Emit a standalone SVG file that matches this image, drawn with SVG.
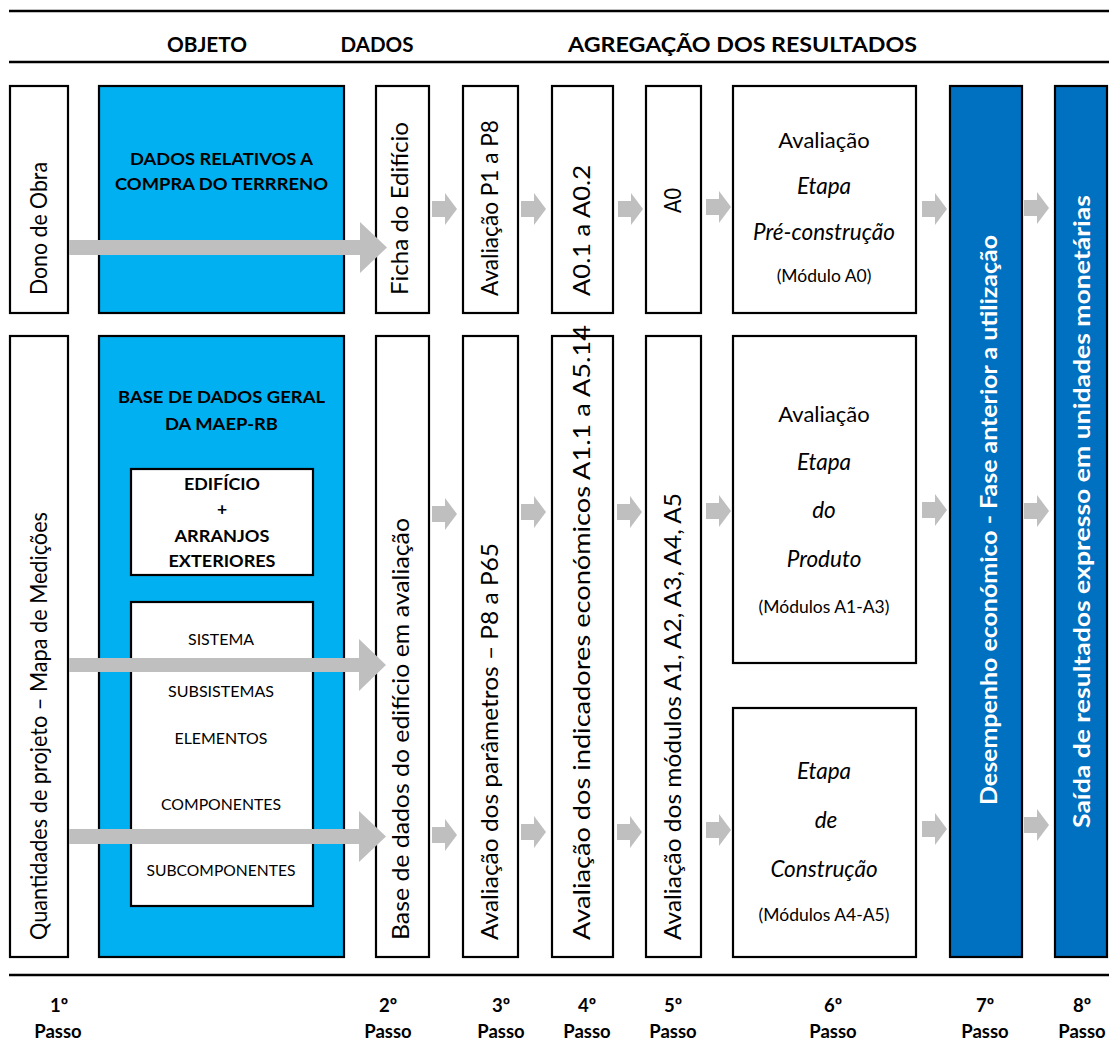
<svg xmlns="http://www.w3.org/2000/svg" width="1109" height="1043" viewBox="0 0 1109 1043">
  <style>
    .box { fill: #ffffff; stroke: #000000; stroke-width: 2.2; }
    .cyan { fill: #00B0F0; stroke: #000000; stroke-width: 2.2; }
    .navy { fill: #0070C0; stroke: #000000; stroke-width: 2.2; }
    .rule { stroke: #000000; stroke-width: 2.5; }
    .arrow { fill: #BFBFBF; }
    text { font-family: Lato, "Liberation Sans", sans-serif; fill: #000000; }
    .hdr { font-size: 20.5px; font-weight: bold; text-anchor: middle; }
    .vt { font-size: 23px; }
    .vtw { font-size: 22px; font-weight: bold; fill: #ffffff; }
    .bh { font-size: 17.5px; font-weight: bold; text-anchor: middle; }
    .li { font-size: 16px; text-anchor: middle; }
    .st { font-size: 22px; text-anchor: middle; }
    .sti { font-size: 22.5px; font-style: italic; text-anchor: middle; }
    .mod { font-size: 17.5px; text-anchor: middle; }
    .step { font-size: 18.5px; font-weight: bold; text-anchor: middle; }
  </style>
  <defs>
    <!-- short block arrow between columns, drawn from its tail at the origin -->
    <path id="chev" class="arrow" d="M0,-8 H13 V-16 L25,0 L13,16 V8 H0 Z"/>
  </defs>

  <!-- horizontal rules -->
  <g id="rules">
    <line class="rule" x1="9" y1="11" x2="1109" y2="11"/>
    <line class="rule" x1="9" y1="62" x2="1109" y2="62"/>
    <line class="rule" x1="9" y1="975" x2="1109" y2="975"/>
  </g>

  <!-- column headings -->
  <g id="headings">
    <text class="hdr" x="207" y="52" textLength="80" lengthAdjust="spacingAndGlyphs">OBJETO</text>
    <text class="hdr" x="377" y="52" textLength="73" lengthAdjust="spacingAndGlyphs">DADOS</text>
    <text class="hdr" x="742.5" y="52" textLength="349" lengthAdjust="spacingAndGlyphs">AGREGAÇÃO DOS RESULTADOS</text>
  </g>

  <!-- top row -->
  <g id="dono-obra">
    <rect class="box" x="10" y="86" width="58" height="227"/>
    <text class="vt" transform="translate(47,295) rotate(-90)" textLength="133" lengthAdjust="spacingAndGlyphs">Dono de Obra</text>
  </g>
  <g id="dados-terreno">
    <rect class="cyan" x="99" y="86" width="245" height="227"/>
    <text class="bh" x="221.5" y="165" textLength="183" lengthAdjust="spacingAndGlyphs">DADOS RELATIVOS A</text>
    <text class="bh" x="221.5" y="190" textLength="213" lengthAdjust="spacingAndGlyphs">COMPRA DO TERRRENO</text>
  </g>
  <g id="ficha-edificio">
    <rect class="box" x="376" y="86" width="53" height="227"/>
    <text class="vt" transform="translate(408,295) rotate(-90)" textLength="173" lengthAdjust="spacingAndGlyphs">Ficha do Edifício</text>
  </g>
  <g id="avaliacao-p1-p8">
    <rect class="box" x="463" y="86" width="55" height="227"/>
    <text class="vt" transform="translate(498,296) rotate(-90)" textLength="176" lengthAdjust="spacingAndGlyphs">Avaliação P1 a P8</text>
  </g>
  <g id="a01-a02">
    <rect class="box" x="552" y="86" width="61" height="227"/>
    <text class="vt" transform="translate(590,296) rotate(-90)" textLength="131" lengthAdjust="spacingAndGlyphs">A0.1 a A0.2</text>
  </g>
  <g id="a0">
    <rect class="box" x="646" y="86" width="55" height="227"/>
    <text class="vt" transform="translate(681,213) rotate(-90)" textLength="25" lengthAdjust="spacingAndGlyphs">A0</text>
  </g>
  <g id="etapa-pre-construcao">
    <rect class="box" x="733" y="86" width="183" height="227"/>
    <text class="st" x="824" y="148">Avaliação</text>
    <text class="sti" x="824" y="194">Etapa</text>
    <text class="sti" x="824" y="240">Pré-construção</text>
    <text class="mod" x="824" y="282">(Módulo A0)</text>
  </g>

  <!-- bottom row -->
  <g id="quantidades-projeto">
    <rect class="box" x="10" y="336" width="58" height="621"/>
    <text class="vt" transform="translate(47,940) rotate(-90)" textLength="428" lengthAdjust="spacingAndGlyphs">Quantidades de projeto – Mapa de Medições</text>
  </g>
  <g id="base-dados-geral">
    <rect class="cyan" x="99" y="336" width="245" height="621"/>
    <text class="bh" x="221.5" y="403" textLength="207" lengthAdjust="spacingAndGlyphs">BASE DE DADOS GERAL</text>
    <text class="bh" x="221.5" y="430" textLength="113" lengthAdjust="spacingAndGlyphs">DA MAEP-RB</text>
    <g id="edificio-arranjos">
      <rect class="box" x="131" y="469" width="182" height="106"/>
      <text class="bh" x="222" y="490" textLength="76" lengthAdjust="spacingAndGlyphs">EDIFÍCIO</text>
      <text class="bh" x="222" y="515">+</text>
      <text class="bh" x="222" y="542" textLength="95" lengthAdjust="spacingAndGlyphs">ARRANJOS</text>
      <text class="bh" x="222" y="567" textLength="107" lengthAdjust="spacingAndGlyphs">EXTERIORES</text>
    </g>
    <g id="hierarquia">
      <rect class="box" x="131" y="602" width="182" height="304"/>
      <text class="li" x="221" y="645" textLength="66" lengthAdjust="spacingAndGlyphs">SISTEMA</text>
      <text class="li" x="221" y="697" textLength="106" lengthAdjust="spacingAndGlyphs">SUBSISTEMAS</text>
      <text class="li" x="221" y="744" textLength="93" lengthAdjust="spacingAndGlyphs">ELEMENTOS</text>
      <text class="li" x="221" y="810" textLength="120" lengthAdjust="spacingAndGlyphs">COMPONENTES</text>
      <text class="li" x="221" y="876" textLength="149" lengthAdjust="spacingAndGlyphs">SUBCOMPONENTES</text>
    </g>
  </g>
  <g id="base-dados-edificio">
    <rect class="box" x="376" y="336" width="53" height="621"/>
    <text class="vt" transform="translate(409,940) rotate(-90)" textLength="422" lengthAdjust="spacingAndGlyphs">Base de dados do edifício em avaliação</text>
  </g>
  <g id="avaliacao-parametros">
    <rect class="box" x="463" y="336" width="55" height="621"/>
    <text class="vt" transform="translate(498,940) rotate(-90)" textLength="397" lengthAdjust="spacingAndGlyphs">Avaliação dos parâmetros – P8 a P65</text>
  </g>
  <g id="avaliacao-indicadores">
    <rect class="box" x="552" y="336" width="61" height="621"/>
    <text class="vt" transform="translate(590,940) rotate(-90)" textLength="615" lengthAdjust="spacingAndGlyphs">Avaliação dos indicadores económicos A1.1 a A5.14</text>
  </g>
  <g id="avaliacao-modulos">
    <rect class="box" x="646" y="336" width="55" height="621"/>
    <text class="vt" transform="translate(681,940) rotate(-90)" textLength="447" lengthAdjust="spacingAndGlyphs">Avaliação dos módulos A1, A2, A3, A4, A5</text>
  </g>
  <g id="etapa-produto">
    <rect class="box" x="733" y="336" width="183" height="327"/>
    <text class="st" x="824" y="422">Avaliação</text>
    <text class="sti" x="824" y="470">Etapa</text>
    <text class="sti" x="824" y="518">do</text>
    <text class="sti" x="824" y="567">Produto</text>
    <text class="mod" x="824" y="613">(Módulos A1-A3)</text>
  </g>
  <g id="etapa-construcao">
    <rect class="box" x="733" y="708" width="183" height="249"/>
    <text class="sti" x="824" y="779">Etapa</text>
    <text class="sti" x="826" y="828">de</text>
    <text class="sti" x="824" y="877">Construção</text>
    <text class="mod" x="824" y="921">(Módulos A4-A5)</text>
  </g>

  <!-- full-height result columns -->
  <g id="desempenho-economico">
    <rect class="navy" x="950" y="86" width="72" height="871"/>
    <text class="vtw" transform="translate(997,805) rotate(-90)" textLength="570" lengthAdjust="spacingAndGlyphs">Desempenho económico - Fase anterior a utilização</text>
  </g>
  <g id="saida-resultados">
    <rect class="navy" x="1055" y="86" width="52" height="871"/>
    <text class="vtw" transform="translate(1090,828) rotate(-90)" textLength="633" lengthAdjust="spacingAndGlyphs">Saída de resultados expresso em unidades monetárias</text>
  </g>

  <!-- flow arrows -->
  <g id="connectors">
    <path class="arrow" d="M69,240 H360 V222 L387,247.5 L360,273 V255 H69 Z"/>
    <path class="arrow" d="M69,658 H359 V639 L386,665 L359,691 V672 H69 Z"/>
    <path class="arrow" d="M69,829 H359 V811 L386,836.5 L359,862 V844 H69 Z"/>

    <use href="#chev" x="432" y="209"/>
    <use href="#chev" x="521" y="209"/>
    <use href="#chev" x="618" y="209"/>
    <use href="#chev" x="706" y="207"/>
    <use href="#chev" x="922" y="209"/>
    <use href="#chev" x="1024" y="208"/>

    <use href="#chev" x="432" y="514"/>
    <use href="#chev" x="521" y="512"/>
    <use href="#chev" x="617" y="512"/>
    <use href="#chev" x="706" y="511"/>
    <use href="#chev" x="922" y="510"/>
    <use href="#chev" x="1024" y="511"/>

    <use href="#chev" x="432" y="835"/>
    <use href="#chev" x="521" y="832"/>
    <use href="#chev" x="617" y="832"/>
    <use href="#chev" x="706" y="830"/>
    <use href="#chev" x="922" y="829"/>
    <use href="#chev" x="1024" y="825"/>
  </g>

  <!-- step numbering -->
  <g id="passos">
    <text class="step" x="59" y="1012">1º</text><text class="step" x="58" y="1038">Passo</text>
    <text class="step" x="388" y="1012">2º</text><text class="step" x="388" y="1038">Passo</text>
    <text class="step" x="501" y="1012">3º</text><text class="step" x="501" y="1038">Passo</text>
    <text class="step" x="587" y="1012">4º</text><text class="step" x="587" y="1038">Passo</text>
    <text class="step" x="673" y="1012">5º</text><text class="step" x="673" y="1038">Passo</text>
    <text class="step" x="833" y="1012">6º</text><text class="step" x="833" y="1038">Passo</text>
    <text class="step" x="985" y="1012">7º</text><text class="step" x="985" y="1038">Passo</text>
    <text class="step" x="1082" y="1012">8º</text><text class="step" x="1082" y="1038">Passo</text>
  </g>
</svg>
